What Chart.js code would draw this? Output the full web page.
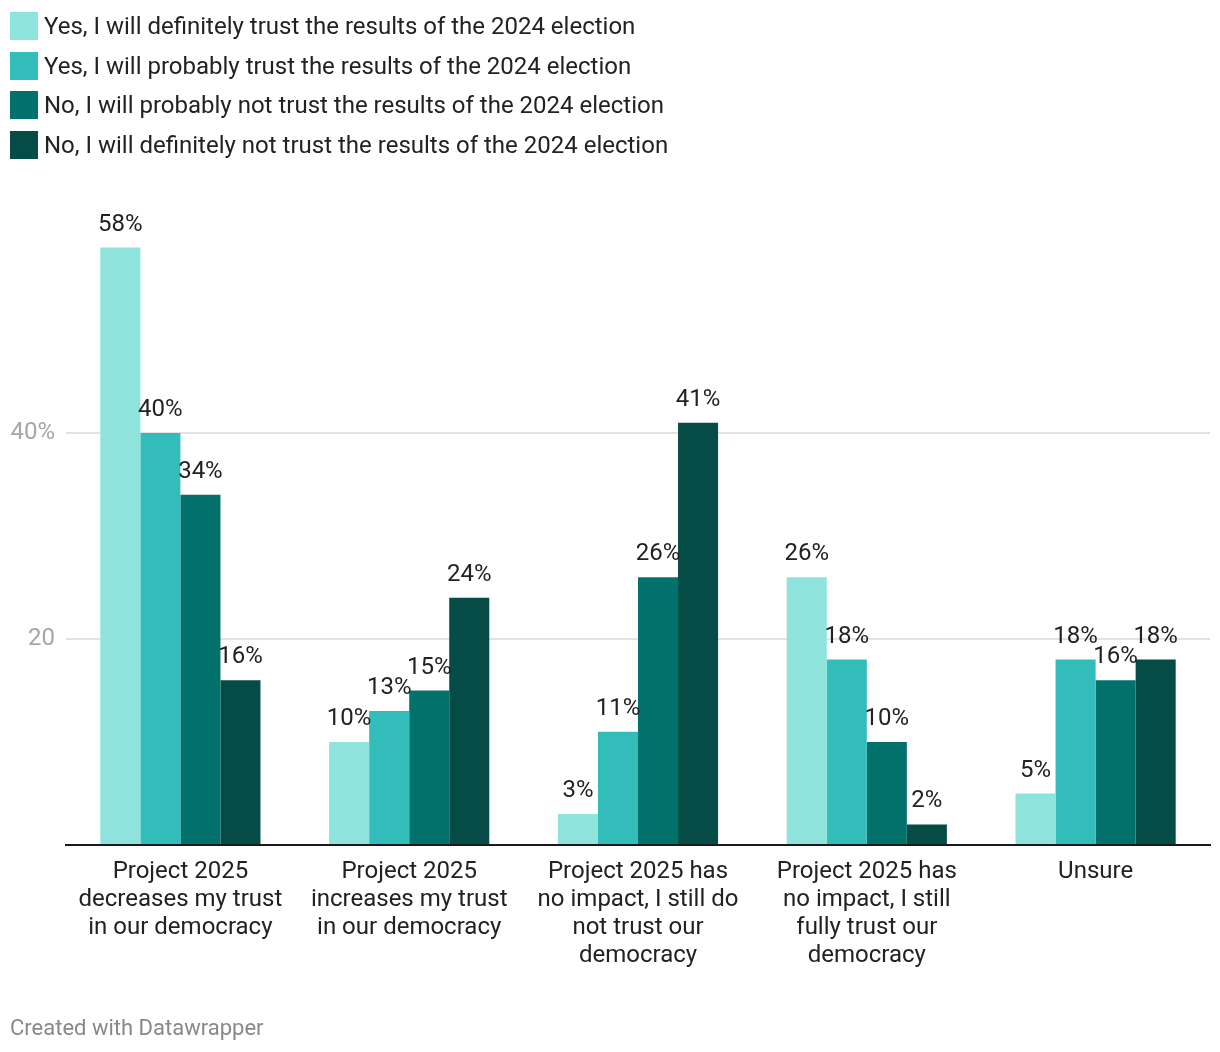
<!DOCTYPE html>
<html>
<head>
<meta charset="utf-8">
<script src="https://cdn.jsdelivr.net/npm/chart.js@4/dist/chart.umd.min.js"></script>
<style>
  html, body { margin: 0; padding: 0; background: #fff; }
  body { width: 1220px; height: 1052px; position: relative; overflow: hidden; font-family: Roboto, "Noto Sans", sans-serif; }
  #wrap { position: absolute; left: 0; top: 0; width: 1220px; height: 1052px; }
  #legend { position: absolute; left: 10px; top: 12px; }
  .li { display: flex; align-items: center; height: 28px; margin-bottom: 11.7px; font-size: 24px; color: #222; white-space: nowrap; }
  .sw { width: 28px; height: 28px; margin-right: 6px; flex: none; }
  #footer { position: absolute; left: 10px; top: 1015px; font-size: 22px; color: #888; }
</style>
</head>
<body>
<div id="wrap"><canvas id="c" width="1220" height="1052"></canvas></div>
<div id="legend"></div>
<div id="footer">Created with Datawrapper</div>
<script>
const categories = [
  ["Project 2025", "decreases my trust", "in our democracy"],
  ["Project 2025", "increases my trust", "in our democracy"],
  ["Project 2025 has", "no impact, I still do", "not trust our", "democracy"],
  ["Project 2025 has", "no impact, I still", "fully trust our", "democracy"],
  ["Unsure"]
];
const seriesNames = [
  "Yes, I will definitely trust the results of the 2024 election",
  "Yes, I will probably trust the results of the 2024 election",
  "No, I will probably not trust the results of the 2024 election",
  "No, I will definitely not trust the results of the 2024 election"
];
const definitelyTrust = [58, 10, 3, 26, 5];
const probablyTrust = [40, 13, 11, 18, 18];
const probablyNotTrust = [34, 15, 26, 10, 16];
const definitelyNotTrust = [16, 24, 41, 2, 18];
const seriesColors = ["#8ee3dc", "#32bdba", "#02716c", "#054b46"];
const yTicks = [0, 20, 40, 60];

const seriesValues = [definitelyTrust, probablyTrust, probablyNotTrust, definitelyNotTrust];

const legendEl = document.getElementById('legend');
seriesNames.forEach((n, i) => {
  const d = document.createElement('div'); d.className = 'li';
  const s = document.createElement('span'); s.className = 'sw'; s.style.background = seriesColors[i];
  const t = document.createElement('span'); t.textContent = n;
  d.appendChild(s); d.appendChild(t); legendEl.appendChild(d);
});

const valueLabels = {
  id: 'valueLabels',
  afterDatasetsDraw(chart) {
    const ctx = chart.ctx;
    ctx.save();
    ctx.font = '24px Roboto, "Noto Sans", sans-serif';
    ctx.fillStyle = '#222';
    ctx.textAlign = 'center';
    ctx.textBaseline = 'alphabetic';
    chart.data.datasets.forEach((ds, di) => {
      const meta = chart.getDatasetMeta(di);
      meta.data.forEach((bar, i) => {
        ctx.fillText(ds.data[i] + '%', bar.x, bar.y - 17);
      });
    });
    ctx.restore();
  }
};

new Chart(document.getElementById('c'), {
  type: 'bar',
  data: {
    labels: categories,
    datasets: seriesNames.map((n, i) => ({
      label: n,
      data: seriesValues[i],
      backgroundColor: seriesColors[i],
      borderWidth: 0,
      categoryPercentage: 0.7,
      barPercentage: 1.0
    }))
  },
  options: {
    responsive: false,
    animation: false,
    devicePixelRatio: 1,
    layout: { padding: { top: 227, right: 10, left: 0, bottom: 0 } },
    plugins: { legend: { display: false }, tooltip: { enabled: false } },
    scales: {
      x: {
        grid: { display: false },
        border: { display: true, color: '#1a1a1a', width: 2 },
        ticks: {
          color: '#222',
          font: { family: 'Roboto', size: 24, lineHeight: 28 / 24 },
          padding: 5,
          maxRotation: 0,
          autoSkip: false
        },
        afterFit(scale) { scale.height = 1052 - 845; }
      },
      y: {
        min: 0, max: 60,
        afterBuildTicks(scale) { scale.ticks = yTicks.map(v => ({ value: v })); },
        grid: {
          color: ctx => (ctx.tick && (ctx.tick.value === 20 || ctx.tick.value === 40)) ? '#e3e3e3' : 'rgba(0,0,0,0)',
          lineWidth: 2,
          drawTicks: false
        },
        border: { display: false },
        ticks: {
          color: '#a6a6a6',
          font: { family: 'Roboto', size: 24 },
          padding: 11,
          callback: v => v === 40 ? '40%' : (v === 20 ? '20' : '')
        },
        afterFit(scale) { scale.width = 66; }
      }
    }
  },
  plugins: [valueLabels]
});
</script>
</body>
</html>
